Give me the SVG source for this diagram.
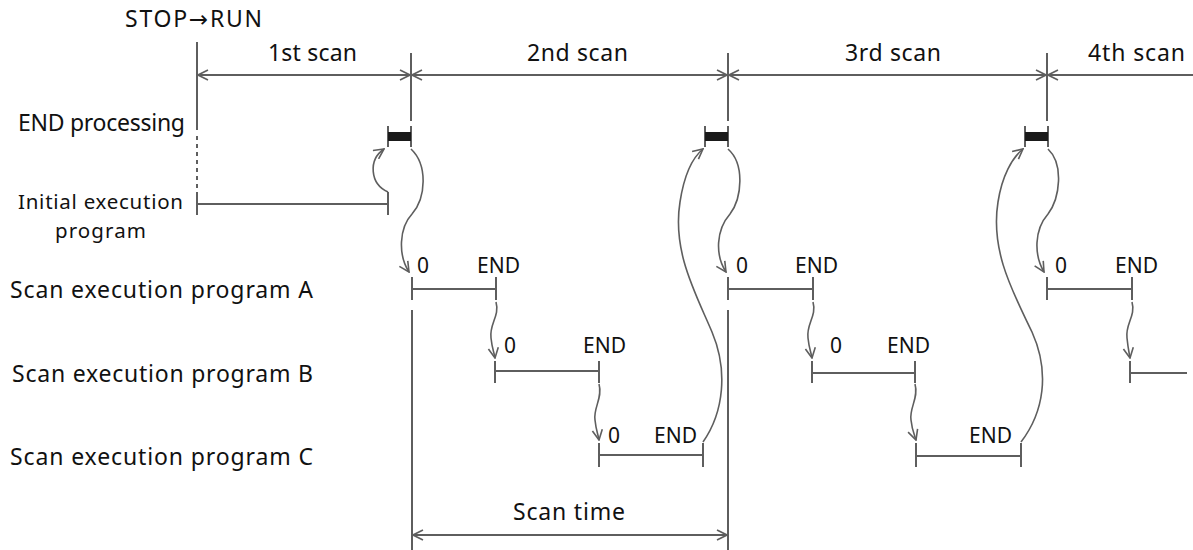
<svg xmlns="http://www.w3.org/2000/svg" width="1193" height="550" viewBox="0 0 1193 550">
<style>
text{font-family:"Noto Sans","Open Sans","DejaVu Sans",sans-serif;font-size:23px;fill:#111}
text.sm{font-size:21px}
text.two{font-size:20.5px}
.ln{stroke:#5e5e5e;stroke-width:2;fill:none}
.cv{stroke:#5e5e5e;stroke-width:1.6;fill:none}
.blk{fill:#1a1a1a}
</style>
<defs>
<marker id="ah" viewBox="0 0 12 12" refX="11" refY="6" markerWidth="12" markerHeight="12" orient="auto-start-reverse" markerUnits="userSpaceOnUse">
<path d="M1,1 L11,6 L1,11" fill="none" stroke="#5e5e5e" stroke-width="1.6"/>
</marker>
</defs>
<rect width="1193" height="550" fill="#fff"/>

<g id="header">
<text x="125" y="27" textLength="137">STOP→RUN</text>
<text x="268" y="61" textLength="89">1st scan</text>
<text x="527" y="61" textLength="101">2nd scan</text>
<text x="845" y="61" textLength="96">3rd scan</text>
<text x="1088" y="61" textLength="97">4th scan</text>
</g>

<g id="row-labels">
<text x="18" y="131" textLength="167">END processing</text>
<text class="two" x="18" y="209" textLength="165">Initial execution</text>
<text class="two" x="55" y="238" textLength="91">program</text>
<text x="10" y="298" textLength="303">Scan execution program A</text>
<text x="12" y="382" textLength="301">Scan execution program B</text>
<text x="10" y="465" textLength="303">Scan execution program C</text>
</g>

<g id="boundaries">
<line class="ln" x1="197" y1="42" x2="197" y2="130"/>
<line class="ln" x1="197" y1="136" x2="197" y2="188" stroke-dasharray="4,4"/>
<line class="ln" x1="411" y1="53" x2="411" y2="121"/>
<line class="ln" x1="728" y1="53" x2="728" y2="121"/>
<line class="ln" x1="1047" y1="53" x2="1047" y2="121"/>
<line class="ln" x1="412" y1="310" x2="412" y2="550"/>
<line class="ln" x1="728" y1="310" x2="728" y2="550"/>
</g>

<g id="scan-dimensions">
<line class="ln" x1="198" y1="75" x2="410" y2="75" marker-start="url(#ah)" marker-end="url(#ah)"/>
<line class="ln" x1="412" y1="75" x2="727" y2="75" marker-start="url(#ah)" marker-end="url(#ah)"/>
<line class="ln" x1="729" y1="75" x2="1046" y2="75" marker-start="url(#ah)" marker-end="url(#ah)"/>
<line class="ln" x1="1048" y1="75" x2="1193" y2="75" marker-start="url(#ah)"/>
</g>

<g id="end-processing-1">
<line class="ln" x1="388" y1="126" x2="388" y2="147"/>
<line class="ln" x1="411" y1="126" x2="411" y2="147"/>
<rect class="blk" x="388" y="132" width="23" height="9"/>
</g>
<g id="end-processing-2">
<line class="ln" x1="705" y1="126" x2="705" y2="147"/>
<line class="ln" x1="728" y1="126" x2="728" y2="147"/>
<rect class="blk" x="705" y="132" width="23" height="9"/>
</g>
<g id="end-processing-3">
<line class="ln" x1="1025" y1="126" x2="1025" y2="147"/>
<line class="ln" x1="1048" y1="126" x2="1048" y2="147"/>
<rect class="blk" x="1025" y="132" width="23" height="9"/>
</g>

<g id="initial-program">
<line class="ln" x1="197" y1="192" x2="197" y2="215"/>
<line class="ln" x1="197" y1="204" x2="388" y2="204"/>
<line class="ln" x1="388" y1="192" x2="388" y2="215"/>
</g>

<g id="program-A-1">
<line class="ln" x1="412" y1="277" x2="412" y2="300"/>
<line class="ln" x1="412" y1="289" x2="496" y2="289"/>
<line class="ln" x1="496" y1="277" x2="496" y2="300"/>
<text class="sm" x="417" y="273">0</text>
<text class="sm" x="477" y="273">END</text>
</g>
<g id="program-B-1">
<line class="ln" x1="495" y1="361" x2="495" y2="383"/>
<line class="ln" x1="495" y1="371" x2="599" y2="371"/>
<line class="ln" x1="599" y1="361" x2="599" y2="383"/>
<text class="sm" x="504" y="353">0</text>
<text class="sm" x="583" y="353">END</text>
</g>
<g id="program-C-1">
<line class="ln" x1="599" y1="443" x2="599" y2="467"/>
<line class="ln" x1="599" y1="455" x2="703" y2="455"/>
<line class="ln" x1="703" y1="443" x2="703" y2="467"/>
<text class="sm" x="608" y="443">0</text>
<text class="sm" x="654" y="443">END</text>
</g>

<g id="program-A-2">
<line class="ln" x1="728" y1="277" x2="728" y2="300"/>
<line class="ln" x1="728" y1="289" x2="813" y2="289"/>
<line class="ln" x1="813" y1="277" x2="813" y2="300"/>
<text class="sm" x="736" y="273">0</text>
<text class="sm" x="795" y="273">END</text>
</g>
<g id="program-B-2">
<line class="ln" x1="812" y1="361" x2="812" y2="383"/>
<line class="ln" x1="812" y1="373" x2="915" y2="373"/>
<line class="ln" x1="915" y1="361" x2="915" y2="383"/>
<text class="sm" x="830" y="353">0</text>
<text class="sm" x="887" y="353">END</text>
</g>
<g id="program-C-2">
<line class="ln" x1="916" y1="443" x2="916" y2="467"/>
<line class="ln" x1="916" y1="456" x2="1021" y2="456"/>
<line class="ln" x1="1021" y1="443" x2="1021" y2="467"/>
<text class="sm" x="969" y="443">END</text>
</g>

<g id="program-A-3">
<line class="ln" x1="1047" y1="277" x2="1047" y2="300"/>
<line class="ln" x1="1047" y1="289" x2="1132" y2="289"/>
<line class="ln" x1="1132" y1="277" x2="1132" y2="300"/>
<text class="sm" x="1055" y="273">0</text>
<text class="sm" x="1115" y="273">END</text>
</g>
<g id="program-B-3">
<line class="ln" x1="1130" y1="361" x2="1130" y2="383"/>
<line class="ln" x1="1130" y1="373" x2="1187" y2="373"/>
</g>

<g id="scan-time">
<line class="ln" x1="413" y1="535" x2="727" y2="535" marker-start="url(#ah)" marker-end="url(#ah)"/>
<text x="513" y="520" textLength="112">Scan time</text>
</g>

<g id="connectors">
<path class="cv" d="M388,192 C 370,184 368,160 384,149" marker-end="url(#ah)"/>
<path class="cv" d="M411,149 C 428,165 426,198 412,214 C 399,228 398,255 409,272" marker-end="url(#ah)"/>
<path class="cv" d="M496,302 C 500,316 489,324 491,338 C 492,348 494,352 495,358" marker-end="url(#ah)"/>
<path class="cv" d="M599,384 C 603,398 593,408 595,420 C 596,430 598,434 599,440" marker-end="url(#ah)"/>
<path class="cv" d="M703,442 C 724,412 728,370 712,332 C 696,294 672,252 680,202 C 684,176 692,158 703,149" marker-end="url(#ah)"/>
<path class="cv" d="M728,149 C 745,164 742,198 730,214 C 716,230 715,255 726,272" marker-end="url(#ah)"/>
<path class="cv" d="M813,302 C 817,316 806,324 808,338 C 809,348 811,352 812,358" marker-end="url(#ah)"/>
<path class="cv" d="M915,384 C 919,398 909,408 911,420 C 912,430 914,434 916,440" marker-end="url(#ah)"/>
<path class="cv" d="M1021,442 C 1044,412 1050,372 1032,332 C 1014,294 990,252 998,202 C 1002,176 1012,158 1023,149" marker-end="url(#ah)"/>
<path class="cv" d="M1048,149 C 1064,164 1060,198 1048,214 C 1034,230 1034,255 1044,272" marker-end="url(#ah)"/>
<path class="cv" d="M1132,302 C 1136,316 1125,324 1127,338 C 1128,348 1129,352 1130,358" marker-end="url(#ah)"/>
</g>
</svg>
